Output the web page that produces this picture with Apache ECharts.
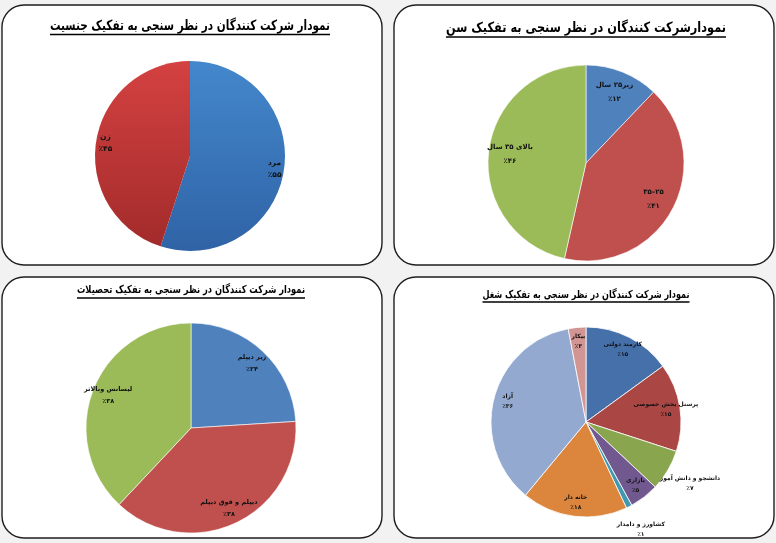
<!DOCTYPE html>
<html>
<head>
<meta charset="utf-8">
<script src="https://cdn.jsdelivr.net/npm/echarts@6/dist/echarts.min.js"></script>
<style>
html,body{margin:0;padding:0;background:#f2f2f2;}
#c{width:776px;height:543px;}
</style>
</head>
<body>
<div id="c"></div>
<script>
// ---- data ----
const titleTexts = [
  'نمودار شرکت کنندگان در نظر سنجی به تفکیک جنسیت',
  'نمودارشرکت کنندگان در نظر سنجی به تفکیک سن',
  'نمودار شرکت کنندگان در نظر سنجی به تفکیک تحصیلات',
  'نمودار شرکت کنندگان در نظر سنجی به تفکیک شغل'
];
const genderNames = ['مرد', 'زن'];
const genderValues = [55, 45];
const ageNames = ['زیر۲۵ سال', '۳۵–۲۵', 'بالای ۳۵ سال'];
const ageValues = [12, 41, 46];
const eduNames = ['زیر دیپلم', 'دیپلم و فوق دیپلم', 'لیسانس وبالاتر'];
const eduValues = [24, 38, 38];
const jobNames = ['کارمند دولتی', 'پرسنل بخش خصوصی', 'دانشجو و دانش آموز', 'بازاری', 'کشاورز و دامدار', 'خانه دار', 'آزاد', 'بیکار'];
const jobValues = [15, 15, 7, 5, 1, 18, 36, 3];
const jobOutsideLabels = [false, false, true, false, true, false, false, false];

// ---- styles ----
const FONT = '"DejaVu Sans"';
const faDigits = '۰۱۲۳۴۵۶۷۸۹';
const toFa = n => String(n).replace(/[0-9]/g, d => faDigits[+d]);
const grad = (a, b) => ({type: 'linear', x: 0, y: 0, x2: 0, y2: 1, colorStops: [{offset: 0, color: a}, {offset: 1, color: b}]});

const genderColors = [grad('#4487cc', '#2f63a6'), grad('#d44141', '#a32b2b')];
const ageColors = ['#4f81bd', '#c0504d', '#9bbb59'];
const eduColors = ['#4f81bd', '#c0504d', '#9bbb59'];
const jobColors = ['#4670aa', '#aa4644', '#89a64e', '#71598f', '#4298b0', '#db853d', '#93a9d0', '#d19693'];

const panels = [
  {x: 2, y: 5, w: 380, h: 260},
  {x: 394, y: 5, w: 380, h: 260},
  {x: 2, y: 277, w: 380, h: 261},
  {x: 394, y: 277, w: 380, h: 261}
];
// title layout: centre x, text centre y, target width, underline y, font size
const titleStyle = [
  {cx: 190, cy: 26, width: 280, uy: 34.5, size: 14},
  {cx: 586, cy: 28, width: 280, uy: 37, size: 14},
  {cx: 191, cy: 290, width: 228, uy: 298, size: 11},
  {cx: 586, cy: 295, width: 207, uy: 302, size: 11}
];
// label ring: inner radius fraction (labels sit mid-ring)
const pies = [
  {center: [190, 156], r: 95, names: genderNames, values: genderValues, colors: genderColors, fs: 7.5, lh: 12, border: 0, ring: 0.74},
  {center: [586, 163], r: 98, names: ageNames, values: ageValues, colors: ageColors, fs: 7, lh: 14, border: 0.6, ring: 0.5},
  {center: [191, 428], r: 105, names: eduNames, values: eduValues, colors: eduColors, fs: 6.5, lh: 12, border: 0.6, ring: 0.64},
  {center: [586, 422], r: 95, names: jobNames, values: jobValues, colors: jobColors, fs: 6, lh: 10, border: 0.8, ring: 0.64, outside: jobOutsideLabels}
];

const measure = (() => {
  const ctx = document.createElement('canvas').getContext('2d');
  return (text, size) => { ctx.font = 'bold ' + size + 'px ' + FONT; return ctx.measureText(text).width; };
})();

const graphics = [];
panels.forEach(p => graphics.push({
  type: 'rect', z: -10, silent: true,
  shape: {x: p.x, y: p.y, width: p.w, height: p.h, r: 22},
  style: {fill: '#ffffff', stroke: '#1e1e1e', lineWidth: 1.4}
}));

titleStyle.forEach((t, i) => {
  const sx = t.width / measure(titleTexts[i], t.size);
  graphics.push({
    type: 'text', silent: true, x: t.cx, y: t.cy, scaleX: sx, z: 10,
    style: {text: titleTexts[i], x: 0, y: 0, align: 'center', verticalAlign: 'middle',
      font: 'bold ' + t.size + 'px ' + FONT, fill: '#000'}
  });
  graphics.push({type: 'line', silent: true, z: 10,
    shape: {x1: t.cx - t.width / 2, y1: t.uy, x2: t.cx + t.width / 2, y2: t.uy},
    style: {stroke: '#000', lineWidth: 1.3}});
});

const labelFmt = p => p.name + '\n٪' + toFa(p.value);
const series = [];
pies.forEach(pc => {
  const data = pc.values.map((v, i) => ({name: pc.names[i], value: v, itemStyle: {color: pc.colors[i]}}));
  series.push({
    type: 'pie', center: pc.center, radius: [0, pc.r], silent: true,
    label: {show: false}, labelLine: {show: false},
    itemStyle: {borderColor: '#fff', borderWidth: pc.border},
    data: data
  });
  const lbl = {show: true, position: 'inside', formatter: labelFmt, color: '#111', fontFamily: FONT, fontWeight: 'bold', fontSize: pc.fs, lineHeight: pc.lh, align: 'center'};
  series.push({
    type: 'pie', center: pc.center, radius: [pc.r * pc.ring, pc.r], silent: true,
    itemStyle: {color: 'rgba(0,0,0,0)', borderWidth: 0}, labelLine: {show: false},
    label: lbl,
    data: pc.values.map((v, i) => ({name: pc.names[i], value: v, label: {show: !(pc.outside && pc.outside[i])}}))
  });
  if (pc.outside) {
    series.push({
      type: 'pie', center: pc.center, radius: [pc.r, pc.r * 1.48], silent: true,
      itemStyle: {color: 'rgba(0,0,0,0)', borderWidth: 0}, labelLine: {show: false},
      label: lbl,
      data: pc.values.map((v, i) => ({name: pc.names[i], value: v, label: {show: !!pc.outside[i]}}))
    });
  }
});

const chart = echarts.init(document.getElementById('c'), null, {renderer: 'canvas'});
chart.setOption({
  animation: false,
  backgroundColor: '#f2f2f2',
  graphic: graphics,
  series: series
});
</script>
</body>
</html>
